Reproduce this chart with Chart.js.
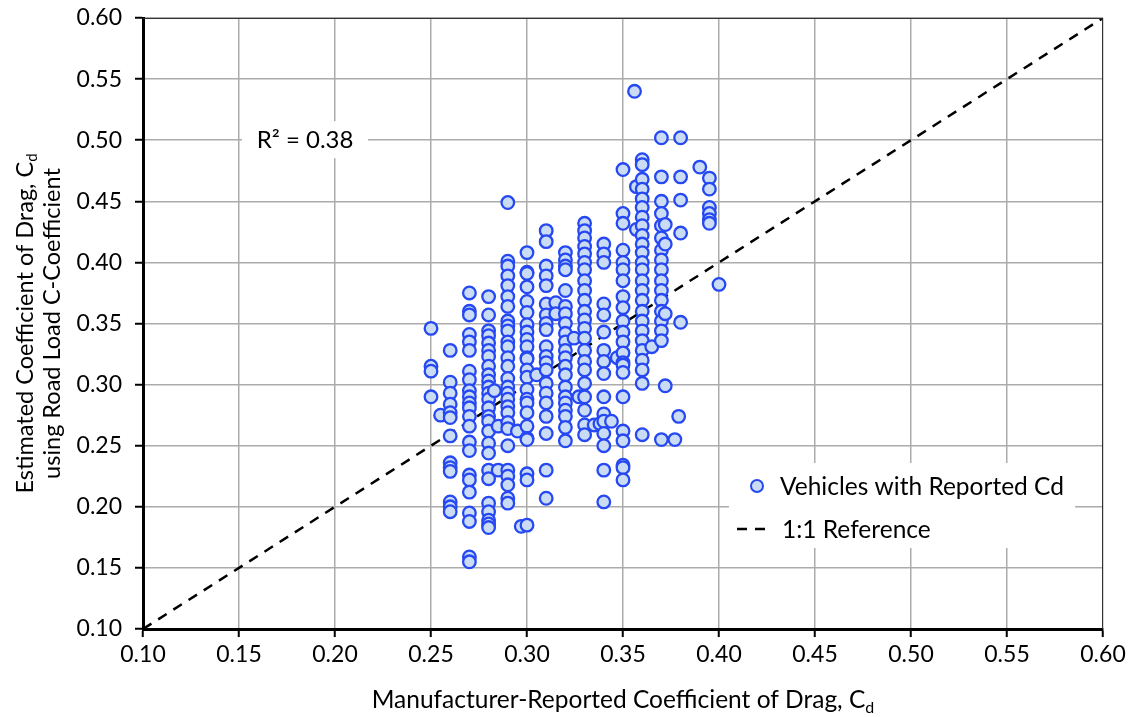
<!DOCTYPE html>
<html>
<head>
<meta charset="utf-8">
<title>Drag coefficient comparison</title>
<script src="https://cdn.jsdelivr.net/npm/chart.js@4.4.1/dist/chart.umd.min.js"></script>
<style>
  html, body { margin: 0; padding: 0; background: #fff; }
</style>
</head>
<body>
<canvas id="dragChart" width="1130" height="717"></canvas>
<script>
// Manufacturer-reported Cd (x) for each column of points
const reportedCd = [
  0.25, 0.255, 0.26, 0.27, 0.28, 0.283, 0.285, 0.29, 0.295, 0.297,
  0.30, 0.305, 0.31, 0.315, 0.32, 0.3245, 0.327, 0.33, 0.335, 0.338,
  0.34, 0.344, 0.347, 0.35, 0.356, 0.357, 0.36, 0.365, 0.37, 0.372,
  0.377, 0.379, 0.38, 0.39, 0.395, 0.40
];

// Estimated Cd from road load C-coefficient (y), one list per column above
const estimatedCd = [
  [0.346, 0.315, 0.311, 0.290],
  [0.275],
  [0.328, 0.302, 0.293, 0.284, 0.277, 0.273, 0.258, 0.236, 0.232, 0.229, 0.204, 0.200, 0.196],
  [0.375, 0.360, 0.357, 0.341, 0.335, 0.328, 0.311, 0.304, 0.295, 0.290, 0.285, 0.281, 0.274,
   0.266, 0.253, 0.246, 0.226, 0.222, 0.212, 0.195, 0.188, 0.159, 0.155],
  [0.372, 0.357, 0.344, 0.340, 0.334, 0.328, 0.323, 0.315, 0.308, 0.303, 0.298, 0.293, 0.288,
   0.281, 0.274, 0.270, 0.262, 0.252, 0.244, 0.230, 0.223, 0.203, 0.196, 0.189, 0.186, 0.183],
  [0.295],
  [0.266, 0.230],
  [0.449, 0.401, 0.397, 0.389, 0.381, 0.372, 0.364, 0.352, 0.348, 0.344, 0.335, 0.331, 0.322,
   0.315, 0.305, 0.298, 0.293, 0.288, 0.282, 0.277, 0.269, 0.264, 0.250, 0.230, 0.225, 0.218,
   0.207, 0.203],
  [0.262],
  [0.184],
  [0.408, 0.392, 0.391, 0.380, 0.368, 0.359, 0.349, 0.343, 0.337, 0.331, 0.322, 0.321, 0.312,
   0.306, 0.296, 0.288, 0.285, 0.277, 0.266, 0.256, 0.255, 0.227, 0.222, 0.185],
  [0.308],
  [0.426, 0.417, 0.397, 0.389, 0.381, 0.366, 0.357, 0.350, 0.345, 0.331, 0.323, 0.318, 0.312,
   0.301, 0.293, 0.285, 0.274, 0.260, 0.230, 0.207],
  [0.367, 0.358],
  [0.408, 0.402, 0.397, 0.394, 0.377, 0.364, 0.358, 0.350, 0.342, 0.335, 0.328, 0.322, 0.315,
   0.308, 0.298, 0.290, 0.285, 0.279, 0.274, 0.265, 0.254],
  [0.338],
  [0.290],
  [0.432, 0.426, 0.420, 0.413, 0.407, 0.400, 0.394, 0.385, 0.377, 0.369, 0.360, 0.353, 0.346,
   0.338, 0.328, 0.319, 0.312, 0.301, 0.290, 0.279, 0.267, 0.259],
  [0.267],
  [0.268],
  [0.415, 0.407, 0.400, 0.366, 0.357, 0.343, 0.328, 0.319, 0.309, 0.290, 0.276, 0.270, 0.260,
   0.250, 0.230, 0.204],
  [0.270],
  [0.322],
  [0.476, 0.440, 0.432, 0.410, 0.400, 0.394, 0.385, 0.372, 0.363, 0.352, 0.343, 0.335, 0.326,
   0.318, 0.316, 0.310, 0.290, 0.262, 0.254, 0.234, 0.232, 0.222],
  [0.540],
  [0.462, 0.427],
  [0.484, 0.480, 0.468, 0.460, 0.452, 0.445, 0.437, 0.430, 0.422, 0.415, 0.408, 0.400, 0.394,
   0.385, 0.377, 0.369, 0.360, 0.352, 0.344, 0.336, 0.328, 0.320, 0.312, 0.301, 0.259],
  [0.331],
  [0.502, 0.470, 0.450, 0.440, 0.430, 0.420, 0.410, 0.402, 0.394, 0.385, 0.377, 0.369, 0.360,
   0.352, 0.344, 0.336, 0.255],
  [0.431, 0.415, 0.358, 0.299],
  [0.255],
  [0.274],
  [0.502, 0.470, 0.451, 0.424, 0.351],
  [0.478],
  [0.469, 0.460, 0.445, 0.440, 0.435, 0.432],
  [0.382]
];

// 1:1 reference line end points
const referenceLine = [0.10, 0.60];

const axisTicks = { min: 0.10, max: 0.60, step: 0.05 };
const rSquaredText = 'R\u00b2 = 0.38';

const FONT = 'Lato, "Open Sans", sans-serif';

// flatten columns into points
const vehiclePoints = [];
reportedCd.forEach((x, i) => {
  estimatedCd[i].forEach(y => vehiclePoints.push({ x: x, y: y }));
});

const pointFill = 'rgb(202, 220, 243)';
const pointEdge = 'rgb(38, 72, 242)';

// text with a subscript, centred on (x, y)
function drawSubText(ctx, main, sub, x, y, size) {
  ctx.font = size + 'px ' + FONT;
  const w1 = ctx.measureText(main).width;
  ctx.font = Math.round(size * 0.65) + 'px ' + FONT;
  const w2 = ctx.measureText(sub).width;
  const start = x - (w1 + w2) / 2;
  ctx.textAlign = 'left';
  ctx.textBaseline = 'middle';
  ctx.font = size + 'px ' + FONT;
  ctx.fillText(main, start, y);
  ctx.font = Math.round(size * 0.65) + 'px ' + FONT;
  ctx.fillText(sub, start + w1, y + size * 0.3);
}

const extras = {
  id: 'extras',
  afterDraw(chart) {
    const ctx = chart.ctx;
    const xs = chart.scales.x, ys = chart.scales.y;
    const area = chart.chartArea;
    ctx.save();
    ctx.fillStyle = '#000';

    // axis titles
    drawSubText(ctx, 'Manufacturer-Reported Coefficient of Drag, C', 'd',
      (area.left + area.right) / 2, 700, 24.5);
    ctx.save();
    ctx.translate(25, (area.top + area.bottom) / 2);
    ctx.rotate(-Math.PI / 2);
    drawSubText(ctx, 'Estimated Coefficient of Drag, C', 'd', 0, 0, 23.5);
    ctx.font = '23.5px ' + FONT;
    ctx.textAlign = 'center';
    ctx.fillText('using Road Load C-Coefficient', 0, 27);
    ctx.restore();

    // R squared label
    const rx = xs.getPixelForValue(0.1844), ry = ys.getPixelForValue(0.50);
    ctx.fillStyle = '#fff';
    ctx.fillRect(rx - 63, ry - 19, 126, 37);
    ctx.fillStyle = '#000';
    ctx.font = '24px ' + FONT;
    ctx.textAlign = 'center';
    ctx.textBaseline = 'middle';
    ctx.fillText(rSquaredText, rx, ry);

    // legend box
    const lx = 729, ly = 463, lw = 346, lh = 85;
    ctx.fillStyle = '#fff';
    ctx.fillRect(lx, ly, lw, lh);
    ctx.beginPath();
    ctx.arc(757, 486, 6, 0, Math.PI * 2);
    ctx.fillStyle = pointFill;
    ctx.fill();
    ctx.lineWidth = 2;
    ctx.strokeStyle = pointEdge;
    ctx.stroke();
    ctx.beginPath();
    ctx.setLineDash([10, 8]);
    ctx.lineWidth = 2.5;
    ctx.strokeStyle = '#000';
    ctx.moveTo(737, 529);
    ctx.lineTo(772, 529);
    ctx.stroke();
    ctx.setLineDash([]);
    ctx.fillStyle = '#000';
    ctx.font = '24.5px ' + FONT;
    ctx.textAlign = 'left';
    ctx.fillText(chart.data.datasets[0].label, 780, 487);
    ctx.fillText(chart.data.datasets[1].label, 782, 530);

    // thin frame top and right
    ctx.beginPath();
    ctx.lineWidth = 1;
    ctx.strokeStyle = '#333';
    ctx.moveTo(area.left, area.top + 0.5);
    ctx.lineTo(area.right - 0.5, area.top + 0.5);
    ctx.lineTo(area.right - 0.5, area.bottom);
    ctx.stroke();
    ctx.restore();
  }
};

new Chart(document.getElementById('dragChart'), {
  type: 'scatter',
  data: {
    datasets: [
      {
        label: 'Vehicles with Reported Cd',
        data: vehiclePoints,
        pointRadius: 6.3,
        pointHoverRadius: 6.3,
        pointBorderWidth: 2.3,
        pointBackgroundColor: pointFill,
        pointBorderColor: pointEdge,
        backgroundColor: pointFill,
        borderColor: pointEdge
      },
      {
        label: '1:1 Reference',
        data: referenceLine.map(v => ({ x: v, y: v })),
        showLine: true,
        borderColor: '#000',
        borderWidth: 2.5,
        borderDash: [10, 8],
        pointRadius: 0
      }
    ]
  },
  options: {
    responsive: false,
    animation: false,
    layout: { padding: { top: 18, right: 27, left: 0, bottom: 0 } },
    plugins: {
      legend: { display: false },
      tooltip: { enabled: false }
    },
    scales: {
      x: {
        type: 'linear',
        min: axisTicks.min,
        max: axisTicks.max,
        afterFit: s => { s.height = 88; s.paddingLeft = 0; s.paddingRight = 0; },
        ticks: {
          stepSize: axisTicks.step,
          callback: v => v.toFixed(2),
          color: '#000',
          font: { family: FONT, size: 23 },
          padding: 4,
          maxRotation: 0
        },
        grid: { color: '#ababab', lineWidth: 1.5, tickLength: 8, tickColor: '#000', tickWidth: 2 },
        border: { color: '#000', width: 3 }
      },
      y: {
        type: 'linear',
        min: axisTicks.min,
        max: axisTicks.max,
        afterFit: s => { s.width = 143; s.paddingTop = 0; s.paddingBottom = 0; },
        ticks: {
          stepSize: axisTicks.step,
          callback: v => v.toFixed(2),
          color: '#000',
          font: { family: FONT, size: 23 },
          padding: 13
        },
        grid: { color: '#ababab', lineWidth: 1.5, tickLength: 8, tickColor: '#000', tickWidth: 2 },
        border: { color: '#000', width: 3 }
      }
    }
  },
  plugins: [extras]
});
</script>
</body>
</html>
